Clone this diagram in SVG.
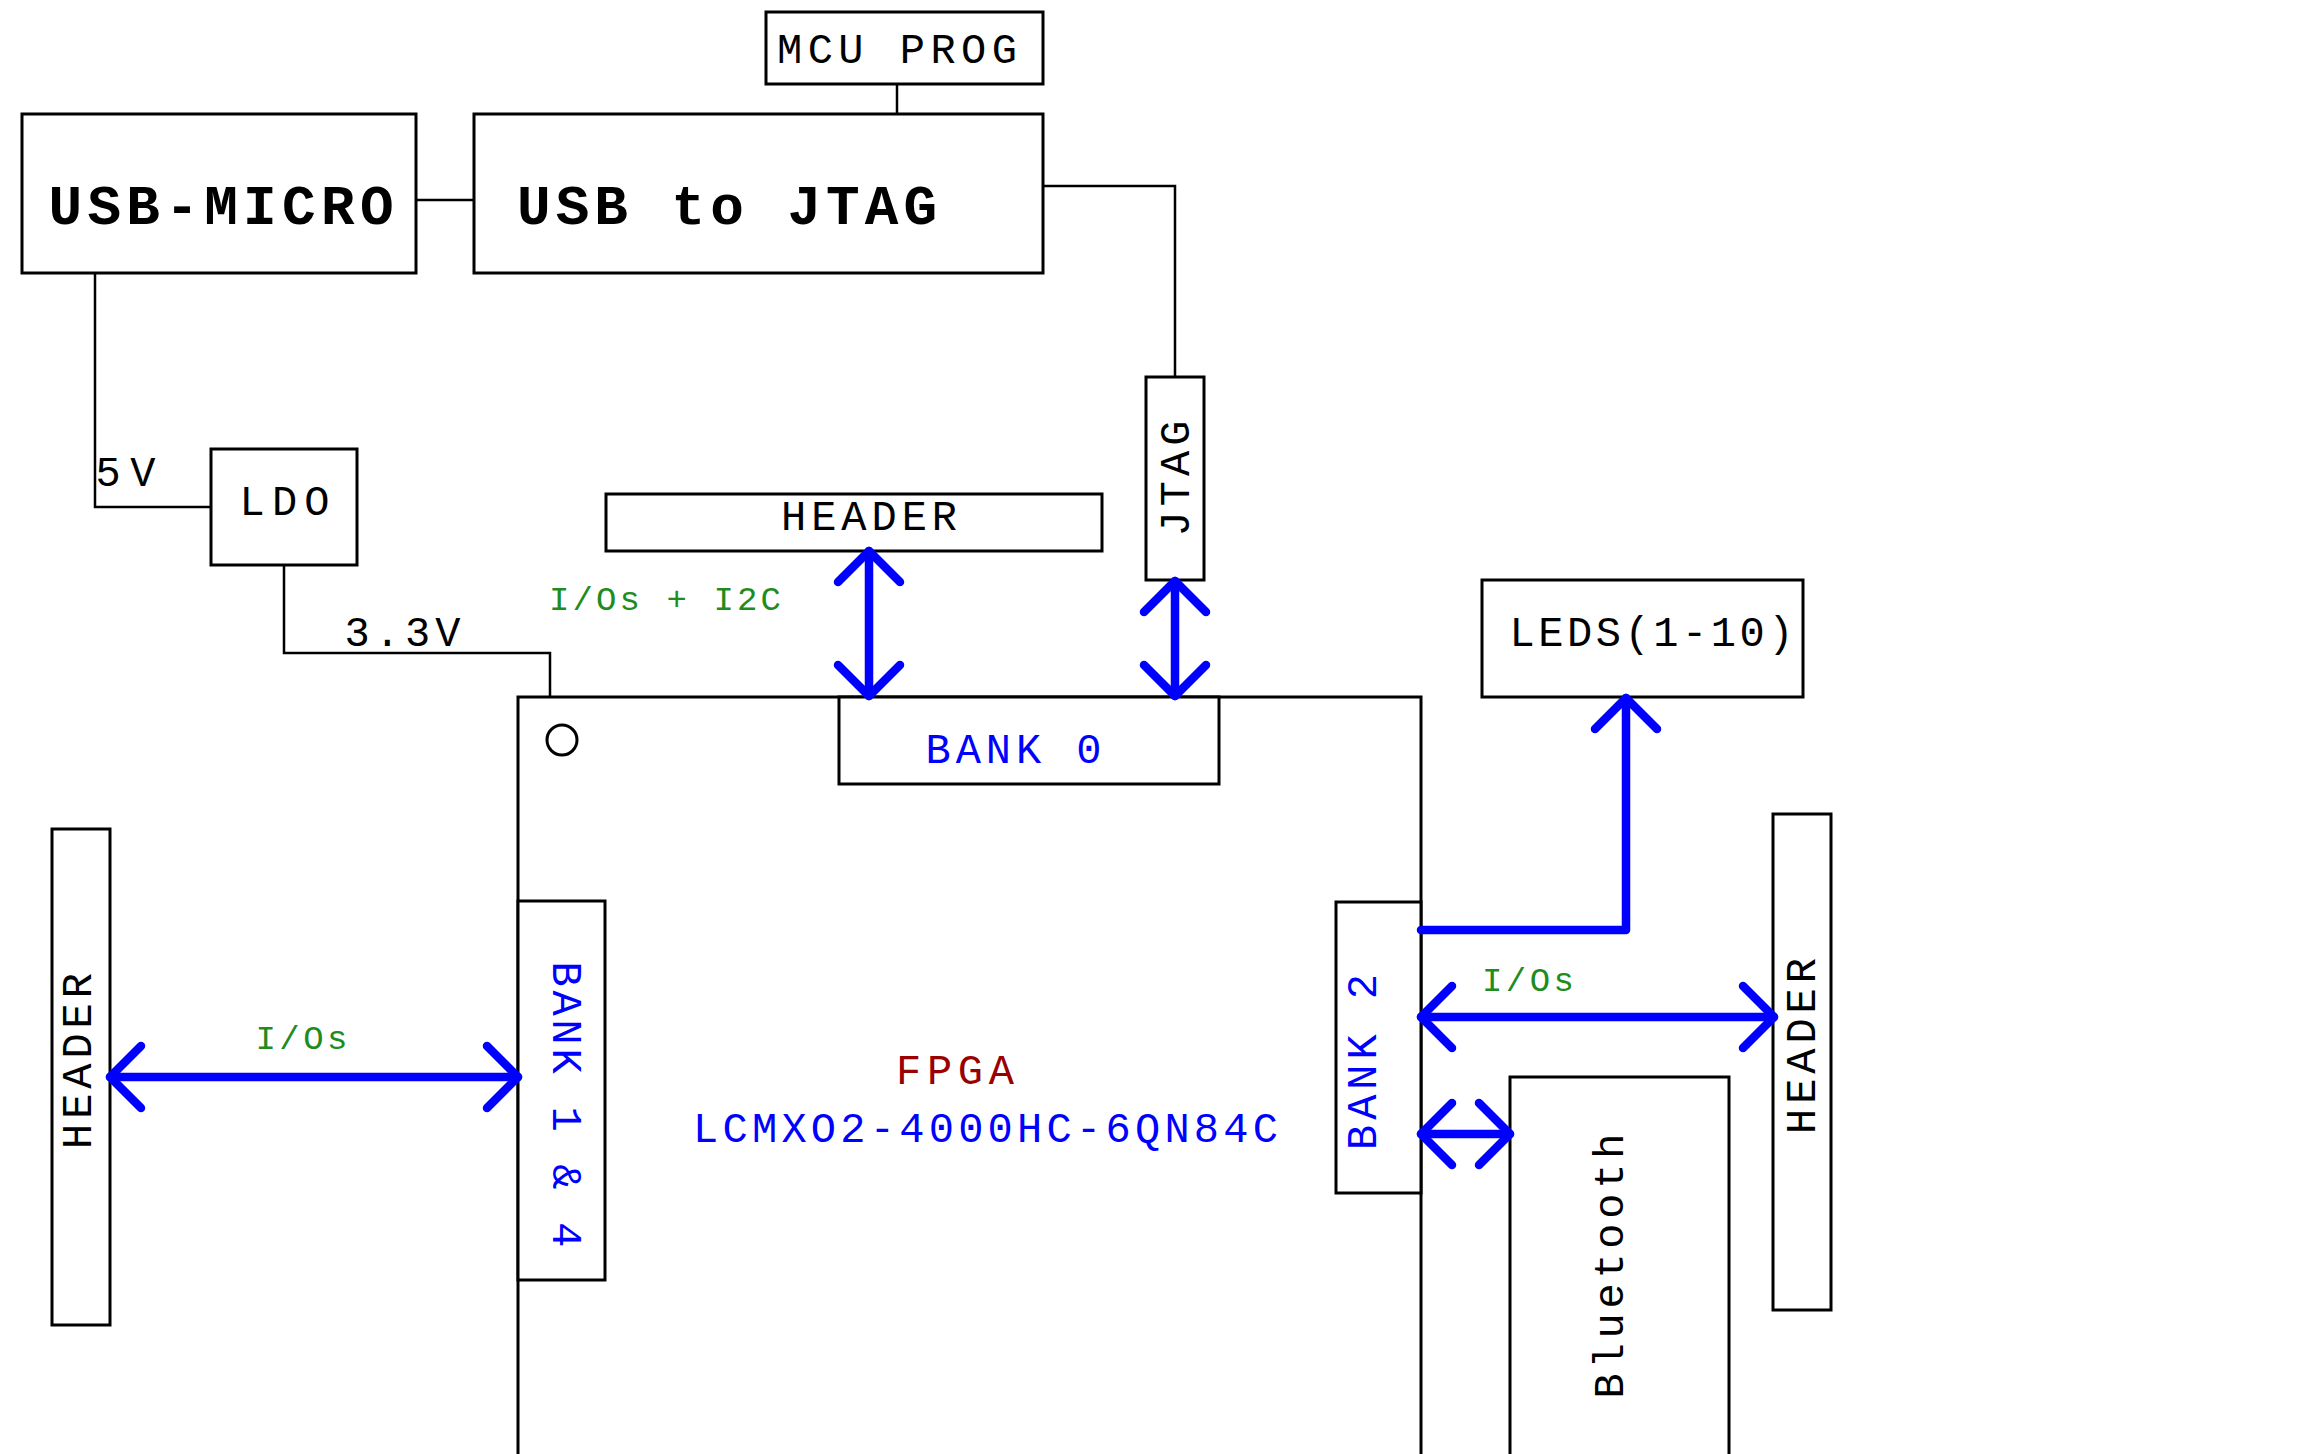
<svg xmlns="http://www.w3.org/2000/svg" width="2314" height="1454" viewBox="0 0 2314 1454">
<style>
  .box { fill: #ffffff; stroke: #000000; stroke-width: 3; }
  .wire { fill: none; stroke: #000000; stroke-width: 2.5; }
  .bus { fill: none; stroke: #0000ff; stroke-width: 8.5; stroke-linecap: round; stroke-linejoin: round; }
  text { font-family: "Liberation Mono", "DejaVu Sans Mono", monospace; text-anchor: middle; }
  .lbl { font-size: 42px; fill: #000000; }
  .big { font-size: 56px; font-weight: bold; fill: #000000; }
  .bank { font-size: 42px; fill: #0000ff; }
  .sig { font-size: 34px; fill: #1e8c1e; }
  .chip { font-size: 42px; fill: #990000; }
</style>
<defs>
  <marker id="ah" viewBox="-40 -40 80 80" markerWidth="80" markerHeight="80" refX="0" refY="0" orient="auto-start-reverse" markerUnits="userSpaceOnUse">
    <path d="M-31,-31 L0,0 L-31,31" fill="none" stroke="#0000ff" stroke-width="8.5" stroke-linecap="round" stroke-linejoin="round"/>
  </marker>
</defs>
<rect width="2314" height="1454" fill="#ffffff"/>

<g id="connectors">
  <path class="wire" d="M897 84 V114"/>
  <path class="wire" d="M416 200 H474"/>
  <path class="wire" d="M1043 186 H1175 V377"/>
  <path class="wire" d="M95 273 V507 H213"/>
  <path class="wire" d="M284 565 V653 H550 V697"/>
  <text class="lbl" x="125.5" y="486" textLength="60" lengthAdjust="spacing">5V</text>
  <text class="lbl" x="402.5" y="646" textLength="116" lengthAdjust="spacing">3.3V</text>
</g>

<g id="fpga">
  <rect class="box" x="518" y="697" width="903" height="800"/>
  <circle cx="562" cy="740" r="15" fill="none" stroke="#000000" stroke-width="3"/>
  <text class="chip" x="955" y="1084" textLength="118" lengthAdjust="spacing">FPGA</text>
  <text class="bank" x="985.5" y="1142" textLength="585" lengthAdjust="spacing">LCMXO2-4000HC-6QN84C</text>
</g>

<g id="mcu-prog">
  <rect class="box" x="766" y="12" width="277" height="72"/>
  <text class="lbl" x="897" y="63" textLength="240" lengthAdjust="spacing">MCU PROG</text>
</g>

<g id="usb-micro">
  <rect class="box" x="22" y="114" width="394" height="159"/>
  <text class="big" x="221" y="224" textLength="345" lengthAdjust="spacing">USB-MICRO</text>
</g>

<g id="usb-to-jtag">
  <rect class="box" x="474" y="114" width="569" height="159"/>
  <text class="big" x="727" y="224" textLength="420" lengthAdjust="spacing">USB to JTAG</text>
</g>

<g id="ldo">
  <rect class="box" x="211" y="449" width="146" height="116"/>
  <text class="lbl" x="284.5" y="515" textLength="90" lengthAdjust="spacing">LDO</text>
</g>

<g id="header-top">
  <rect class="box" x="606" y="494" width="496" height="57"/>
  <text class="lbl" x="869" y="530" textLength="176" lengthAdjust="spacing">HEADER</text>
</g>

<g id="jtag">
  <rect class="box" x="1146" y="377" width="58" height="203"/>
  <text class="lbl" transform="translate(1189,478.5) rotate(-90)" x="0" y="0" textLength="116" lengthAdjust="spacing">JTAG</text>
</g>

<g id="leds">
  <rect class="box" x="1482" y="580" width="321" height="117"/>
  <text class="lbl" x="1651.5" y="646" textLength="284" lengthAdjust="spacing">LEDS(1-10)</text>
</g>

<g id="bank0">
  <rect class="box" x="839" y="697" width="380" height="87"/>
  <text class="bank" x="1013.5" y="763" textLength="176" lengthAdjust="spacing">BANK 0</text>
</g>

<g id="bank14">
  <rect class="box" x="518" y="901" width="87" height="379"/>
  <text class="bank" transform="translate(552.5,1104.5) rotate(90)" x="0" y="0" textLength="286" lengthAdjust="spacing">BANK 1 &amp; 4</text>
</g>

<g id="bank2">
  <rect class="box" x="1336" y="902" width="85" height="291"/>
  <text class="bank" transform="translate(1376,1062) rotate(-90)" x="0" y="0" textLength="176" lengthAdjust="spacing">BANK 2</text>
</g>

<g id="header-left">
  <rect class="box" x="52" y="829" width="58" height="496"/>
  <text class="lbl" transform="translate(91,1061) rotate(-90)" x="0" y="0" textLength="176" lengthAdjust="spacing">HEADER</text>
</g>

<g id="header-right">
  <rect class="box" x="1773" y="814" width="58" height="496"/>
  <text class="lbl" transform="translate(1815,1046) rotate(-90)" x="0" y="0" textLength="176" lengthAdjust="spacing">HEADER</text>
</g>

<g id="bluetooth">
  <rect class="box" x="1510" y="1077" width="219" height="500"/>
  <text class="lbl" transform="translate(1623,1266) rotate(-90)" x="0" y="0" textLength="265" lengthAdjust="spacing">Bluetooth</text>
</g>

<g id="buses">
  <path class="bus" d="M869 551 V696" marker-start="url(#ah)" marker-end="url(#ah)"/>
  <path class="bus" d="M1175 581 V696" marker-start="url(#ah)" marker-end="url(#ah)"/>
  <path class="bus" d="M1421 930 H1626 V698" marker-end="url(#ah)"/>
  <path class="bus" d="M110 1077 H518" marker-start="url(#ah)" marker-end="url(#ah)"/>
  <path class="bus" d="M1421 1017 H1774" marker-start="url(#ah)" marker-end="url(#ah)"/>
  <path class="bus" d="M1421 1134 H1510" marker-start="url(#ah)" marker-end="url(#ah)"/>
  <text class="sig" x="665" y="610" textLength="232" lengthAdjust="spacing">I/Os + I2C</text>
  <text class="sig" x="301.5" y="1049" textLength="92" lengthAdjust="spacing">I/Os</text>
  <text class="sig" x="1528" y="991" textLength="92" lengthAdjust="spacing">I/Os</text>
</g>
</svg>
